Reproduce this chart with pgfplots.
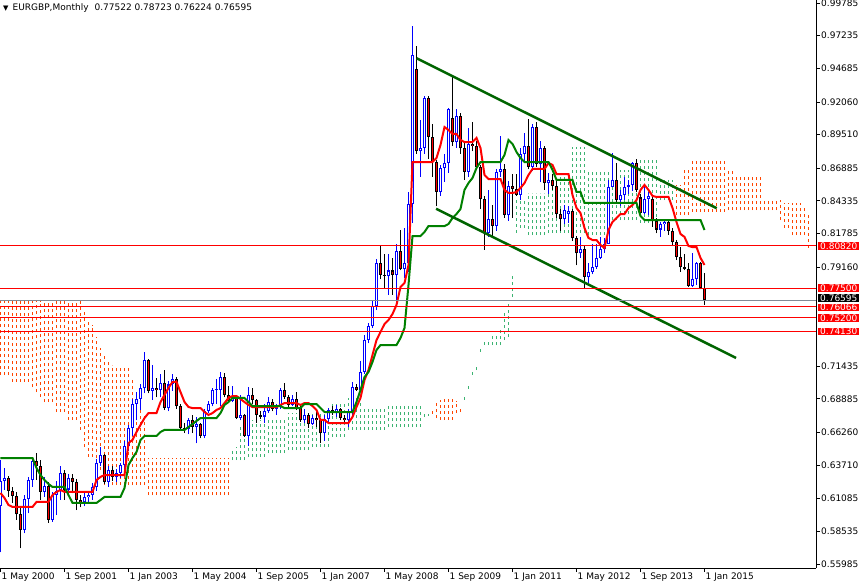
\documentclass[border=0pt]{standalone}
\usepackage{fontspec}
\setmainfont{DejaVu Sans}
\usepackage{pgfplots}
\usepackage{pgfplotstable}
\pgfplotsset{compat=1.18}

\definecolor{mtred}{RGB}{255,0,0}
\definecolor{mtblue}{RGB}{0,0,255}
\definecolor{kijun}{RGB}{0,128,0}
\definecolor{trend}{RGB}{0,100,0}
\definecolor{kumodn}{RGB}{255,69,0}
\definecolor{kumoup}{RGB}{60,179,113}
\definecolor{bidgray}{RGB}{128,138,150}

% monthly EURGBP bars, x = months since May 2000; tk = tenkan, kj = kijun
\pgfplotstableread{
x o h l c tk kj
0 0.6050 0.6410 0.5690 0.6245 0.6153 0.6426
1 0.6245 0.6345 0.6180 0.6267 0.6114 0.6426
2 0.6267 0.6285 0.6125 0.6171 0.6059 0.6426
3 0.6171 0.6200 0.6073 0.6132 0.6044 0.6426
4 0.6132 0.6163 0.5942 0.5986 0.6044 0.6426
5 0.5986 0.6046 0.5720 0.5864 0.6044 0.6426
6 0.5864 0.6137 0.5838 0.6109 0.6044 0.6426
7 0.6109 0.6280 0.5994 0.6254 0.6044 0.6426
8 0.6254 0.6437 0.6202 0.6403 0.6044 0.6426
9 0.6403 0.6463 0.6254 0.6360 0.6083 0.6348
10 0.6360 0.6410 0.6098 0.6163 0.6083 0.6293
11 0.6163 0.6280 0.6124 0.6210 0.6083 0.6254
12 0.6210 0.6240 0.5920 0.5942 0.6083 0.6223
13 0.5942 0.6160 0.5930 0.6140 0.6137 0.6200
14 0.6140 0.6250 0.5980 0.6165 0.6161 0.6200
15 0.6165 0.6360 0.6100 0.6310 0.6176 0.6200
16 0.6310 0.6330 0.6100 0.6180 0.6161 0.6200
17 0.6180 0.6300 0.6140 0.6270 0.6161 0.6137
18 0.6270 0.6300 0.6150 0.6240 0.6161 0.6075
19 0.6240 0.6260 0.6020 0.6100 0.6161 0.6075
20 0.6100 0.6140 0.6040 0.6080 0.6161 0.6075
21 0.6080 0.6150 0.6050 0.6120 0.6161 0.6075
22 0.6120 0.6160 0.6070 0.6140 0.6161 0.6075
23 0.6140 0.6230 0.6100 0.6200 0.6161 0.6075
24 0.6200 0.6420 0.6170 0.6390 0.6254 0.6075
25 0.6390 0.6510 0.6360 0.6450 0.6278 0.6098
26 0.6450 0.6460 0.6220 0.6240 0.6293 0.6122
27 0.6240 0.6360 0.6200 0.6330 0.6293 0.6122
28 0.6330 0.6360 0.6250 0.6280 0.6293 0.6122
29 0.6280 0.6340 0.6240 0.6310 0.6293 0.6122
30 0.6310 0.6390 0.6270 0.6370 0.6293 0.6122
31 0.6370 0.6560 0.6330 0.6520 0.6293 0.6192
32 0.6520 0.6680 0.6480 0.6660 0.6543 0.6371
33 0.6660 0.6890 0.6600 0.6850 0.6567 0.6426
34 0.6850 0.6940 0.6720 0.6890 0.6629 0.6473
35 0.6890 0.7000 0.6800 0.6970 0.6684 0.6567
36 0.6970 0.7250 0.6930 0.7190 0.6738 0.6598
37 0.7190 0.7200 0.6930 0.6950 0.6777 0.6598
38 0.6950 0.7150 0.6880 0.6975 0.6777 0.6598
39 0.6975 0.7050 0.6900 0.6955 0.6777 0.6598
40 0.6955 0.7080 0.6900 0.7010 0.6863 0.6629
41 0.7010 0.7110 0.6800 0.6815 0.6918 0.6645
42 0.6815 0.7030 0.6790 0.7000 0.6973 0.6645
43 0.7000 0.7080 0.6950 0.7040 0.7020 0.6645
44 0.7040 0.7060 0.6810 0.6830 0.7020 0.6645
45 0.6830 0.6850 0.6640 0.6660 0.6941 0.6645
46 0.6660 0.6700 0.6620 0.6650 0.6863 0.6645
47 0.6650 0.6740 0.6610 0.6720 0.6824 0.6668
48 0.6720 0.6760 0.6620 0.6670 0.6816 0.6691
49 0.6670 0.6750 0.6540 0.6690 0.6816 0.6715
50 0.6690 0.6700 0.6580 0.6600 0.6816 0.6738
51 0.6600 0.6810 0.6580 0.6790 0.6785 0.6738
52 0.6790 0.6870 0.6780 0.6850 0.6762 0.6738
53 0.6850 0.6970 0.6830 0.6955 0.6777 0.6738
54 0.6955 0.7040 0.6850 0.6960 0.6801 0.6738
55 0.6960 0.7100 0.6830 0.7060 0.6816 0.6777
56 0.7060 0.7090 0.6900 0.6920 0.6855 0.6840
57 0.6920 0.6990 0.6860 0.6870 0.6895 0.6863
58 0.6870 0.6990 0.6860 0.6900 0.6910 0.6895
59 0.6900 0.6920 0.6730 0.6740 0.6910 0.6895
60 0.6740 0.6920 0.6720 0.6760 0.6887 0.6895
61 0.6760 0.6770 0.6590 0.6600 0.6863 0.6895
62 0.6600 0.6980 0.6520 0.6920 0.6840 0.6863
63 0.6920 0.6970 0.6850 0.6880 0.6824 0.6832
64 0.6880 0.6890 0.6700 0.6760 0.6824 0.6832
65 0.6760 0.6790 0.6730 0.6750 0.6824 0.6832
66 0.6750 0.6850 0.6700 0.6790 0.6824 0.6832
67 0.6790 0.6900 0.6780 0.6860 0.6824 0.6832
68 0.6860 0.6890 0.6790 0.6810 0.6824 0.6832
69 0.6810 0.6850 0.6760 0.6830 0.6824 0.6832
70 0.6830 0.6970 0.6810 0.6960 0.6840 0.6832
71 0.6960 0.7010 0.6890 0.6905 0.6855 0.6816
72 0.6905 0.6920 0.6820 0.6840 0.6855 0.6816
73 0.6840 0.6920 0.6830 0.6890 0.6855 0.6816
74 0.6890 0.6940 0.6800 0.6820 0.6855 0.6816
75 0.6820 0.6830 0.6710 0.6720 0.6840 0.6816
76 0.6720 0.6810 0.6700 0.6760 0.6855 0.6847
77 0.6760 0.6780 0.6660 0.6690 0.6855 0.6847
78 0.6690 0.6760 0.6680 0.6740 0.6832 0.6847
79 0.6740 0.6790 0.6670 0.6720 0.6801 0.6847
80 0.6720 0.6740 0.6540 0.6620 0.6723 0.6816
81 0.6620 0.6760 0.6560 0.6730 0.6723 0.6785
82 0.6730 0.6820 0.6700 0.6800 0.6699 0.6785
83 0.6800 0.6830 0.6760 0.6790 0.6699 0.6785
84 0.6790 0.6840 0.6750 0.6810 0.6699 0.6785
85 0.6810 0.6820 0.6720 0.6740 0.6699 0.6785
86 0.6740 0.6760 0.6700 0.6720 0.6699 0.6785
87 0.6720 0.6810 0.6670 0.6790 0.6699 0.6785
88 0.6790 0.7020 0.6750 0.6980 0.6746 0.6785
89 0.6980 0.7000 0.6950 0.6960 0.6824 0.6863
90 0.6960 0.7180 0.6940 0.7100 0.6895 0.6957
91 0.7100 0.7390 0.7080 0.7350 0.7035 0.7058
92 0.7350 0.7480 0.7320 0.7460 0.7113 0.7098
93 0.7460 0.7660 0.7440 0.7610 0.7230 0.7176
94 0.7610 0.7980 0.7580 0.7945 0.7347 0.7269
95 0.7945 0.8090 0.7820 0.7855 0.7410 0.7308
96 0.7855 0.8020 0.7750 0.7850 0.7472 0.7308
97 0.7850 0.8020 0.7700 0.7890 0.7503 0.7308
98 0.7890 0.7990 0.7700 0.7855 0.7550 0.7308
99 0.7855 0.8100 0.7630 0.8040 0.7621 0.7308
100 0.8040 0.8210 0.7890 0.7905 0.7761 0.7363
101 0.7905 0.8220 0.7830 0.7950 0.7792 0.7441
102 0.7950 0.8500 0.7880 0.8410 0.7933 0.7777
103 0.8410 0.9795 0.8260 0.9570 0.8737 0.8159
104 0.9460 0.9640 0.8800 0.8820 0.8737 0.8159
105 0.8820 0.9065 0.8620 0.8850 0.8737 0.8159
106 0.8850 0.9250 0.8800 0.9234 0.8737 0.8191
107 0.9234 0.9250 0.8760 0.8935 0.8737 0.8237
108 0.8935 0.9030 0.8620 0.8740 0.8737 0.8237
109 0.8740 0.8750 0.8390 0.8506 0.8768 0.8237
110 0.8506 0.8710 0.8470 0.8690 0.8870 0.8237
111 0.8690 0.8800 0.8580 0.8730 0.9010 0.8237
112 0.8730 0.9160 0.8650 0.9148 0.8987 0.8253
113 0.9080 0.9403 0.8860 0.8890 0.8956 0.8300
114 0.8890 0.9150 0.8850 0.9100 0.8956 0.8331
115 0.9100 0.9120 0.8800 0.8844 0.8909 0.8370
116 0.8844 0.8900 0.8600 0.8662 0.8893 0.8519
117 0.8662 0.9000 0.8620 0.8880 0.8893 0.8573
118 0.8880 0.9050 0.8820 0.8860 0.8893 0.8612
119 0.8860 0.8900 0.8680 0.8700 0.8925 0.8690
120 0.8700 0.8710 0.8370 0.8450 0.8846 0.8737
121 0.8450 0.8470 0.8050 0.8180 0.8636 0.8737
122 0.8180 0.8520 0.8150 0.8290 0.8604 0.8737
123 0.8290 0.8400 0.8150 0.8240 0.8604 0.8737
124 0.8240 0.8680 0.8200 0.8660 0.8604 0.8737
125 0.8660 0.8940 0.8620 0.8680 0.8604 0.8737
126 0.8680 0.8720 0.8300 0.8323 0.8519 0.8792
127 0.8323 0.8590 0.8280 0.8550 0.8495 0.8909
128 0.8550 0.8640 0.8300 0.8530 0.8495 0.8878
129 0.8530 0.8640 0.8470 0.8480 0.8503 0.8815
130 0.8480 0.8850 0.8440 0.8800 0.8534 0.8768
131 0.8800 0.8960 0.8740 0.8860 0.8573 0.8737
132 0.8860 0.9070 0.8680 0.8700 0.8636 0.8737
133 0.8700 0.9030 0.8670 0.9010 0.8683 0.8737
134 0.9010 0.9050 0.8700 0.8720 0.8683 0.8737
135 0.8720 0.8900 0.8580 0.8850 0.8683 0.8737
136 0.8850 0.8860 0.8520 0.8570 0.8683 0.8737
137 0.8570 0.8650 0.8490 0.8600 0.8729 0.8737
138 0.8600 0.8640 0.8520 0.8550 0.8714 0.8675
139 0.8550 0.8610 0.8300 0.8330 0.8643 0.8597
140 0.8330 0.8370 0.8200 0.8290 0.8643 0.8597
141 0.8290 0.8400 0.8250 0.8360 0.8643 0.8597
142 0.8330 0.8390 0.8260 0.8355 0.8643 0.8597
143 0.8355 0.8370 0.8120 0.8140 0.8479 0.8597
144 0.8140 0.8160 0.7930 0.8024 0.8378 0.8503
145 0.8024 0.8150 0.7990 0.8060 0.8339 0.8503
146 0.8060 0.8080 0.7755 0.7840 0.8222 0.8417
147 0.7840 0.7950 0.7790 0.7880 0.8144 0.8417
148 0.7880 0.8100 0.7860 0.7920 0.8128 0.8417
149 0.7920 0.8100 0.7900 0.7990 0.8128 0.8417
150 0.7990 0.8150 0.7980 0.8060 0.8089 0.8417
151 0.8060 0.8140 0.8030 0.8100 0.8066 0.8417
152 0.8100 0.8600 0.8100 0.8545 0.8206 0.8417
153 0.8545 0.8810 0.8540 0.8600 0.8269 0.8417
154 0.8600 0.8730 0.8420 0.8440 0.8300 0.8417
155 0.8440 0.8520 0.8390 0.8480 0.8331 0.8417
156 0.8480 0.8620 0.8440 0.8545 0.8331 0.8417
157 0.8545 0.8600 0.8490 0.8560 0.8378 0.8417
158 0.8560 0.8740 0.8510 0.8730 0.8401 0.8417
159 0.8730 0.8760 0.8500 0.8520 0.8440 0.8417
160 0.8460 0.8490 0.8320 0.8340 0.8519 0.8315
161 0.8340 0.8560 0.8330 0.8450 0.8558 0.8284
162 0.8450 0.8500 0.8320 0.8470 0.8519 0.8284
163 0.8450 0.8460 0.8230 0.8280 0.8472 0.8284
164 0.8280 0.8300 0.8180 0.8210 0.8464 0.8284
165 0.8210 0.8270 0.8150 0.8250 0.8464 0.8284
166 0.8250 0.8290 0.8200 0.8270 0.8464 0.8284
167 0.8270 0.8280 0.8170 0.8200 0.8464 0.8284
168 0.8200 0.8220 0.8080 0.8110 0.8378 0.8284
169 0.8110 0.8130 0.7970 0.7995 0.8269 0.8284
170 0.7995 0.8070 0.7880 0.7915 0.8175 0.8284
171 0.7915 0.8020 0.7890 0.7900 0.8152 0.8284
172 0.7900 0.7950 0.7760 0.7770 0.8081 0.8284
173 0.7770 0.8030 0.7760 0.7820 0.8073 0.8284
174 0.7820 0.7960 0.7780 0.7945 0.8073 0.8284
175 0.7945 0.7955 0.7743 0.7752 0.7988 0.8284
176 0.77522 0.78723 0.76224 0.76595 0.7933 0.8206
}\candles

% kumo, bearish part (span A below span B)
\pgfplotstableread{
x lo hi
0 0.7074 0.7652
1 0.7074 0.7652
2 0.7074 0.7652
3 0.7020 0.7652
4 0.7020 0.7652
5 0.7020 0.7652
6 0.7020 0.7652
7 0.7020 0.7652
8 0.6980 0.7652
9 0.6941 0.7652
10 0.6902 0.7652
11 0.6863 0.7652
12 0.6863 0.7652
13 0.6863 0.7652
14 0.6785 0.7652
15 0.6785 0.7652
16 0.6785 0.7652
17 0.6723 0.7652
18 0.6723 0.7652
19 0.6723 0.7652
20 0.6645 0.7652
21 0.6512 0.7582
22 0.6434 0.7503
23 0.6434 0.7465
24 0.6332 0.7371
25 0.6332 0.7285
26 0.6215 0.7230
27 0.6215 0.7191
28 0.6215 0.7152
29 0.6215 0.7129
30 0.6215 0.7129
31 0.6215 0.7129
32 0.6215 0.7129
33 0.6215 0.7035
34 0.6215 0.6934
35 0.6215 0.6879
36 0.6215 0.6762
37 0.6137 0.6426
38 0.6137 0.6426
39 0.6137 0.6426
40 0.6137 0.6426
41 0.6137 0.6426
42 0.6137 0.6426
43 0.6137 0.6426
44 0.6137 0.6426
45 0.6137 0.6426
46 0.6137 0.6426
47 0.6137 0.6426
48 0.6137 0.6426
49 0.6137 0.6426
50 0.6137 0.6426
51 0.6137 0.6426
52 0.6137 0.6426
53 0.6137 0.6426
54 0.6137 0.6426
55 0.6137 0.6426
56 0.6137 0.6426
57 0.6137 0.6426
108 0.6770 0.6800
109 0.6738 0.6855
110 0.6723 0.6879
111 0.6723 0.6887
112 0.6723 0.6887
113 0.6723 0.6887
114 0.6777 0.6871
115 0.6785 0.6824
169 0.8323 0.8558
170 0.8323 0.8558
171 0.8323 0.8675
172 0.8323 0.8675
173 0.8347 0.8768
174 0.8347 0.8768
175 0.8347 0.8768
176 0.8347 0.8768
177 0.8347 0.8768
178 0.8347 0.8768
179 0.8347 0.8768
180 0.8347 0.8768
181 0.8347 0.8768
182 0.8362 0.8675
183 0.8362 0.8675
184 0.8362 0.8620
185 0.8362 0.8620
186 0.8362 0.8620
187 0.8362 0.8620
188 0.8362 0.8620
189 0.8362 0.8620
190 0.8362 0.8620
191 0.8362 0.8440
192 0.8362 0.8440
193 0.8362 0.8440
194 0.8362 0.8440
195 0.8284 0.8440
196 0.8222 0.8417
197 0.8222 0.8417
198 0.8167 0.8417
199 0.8167 0.8417
200 0.8167 0.8417
201 0.8167 0.8401
202 0.8066 0.8347
}\kumodown

% kumo, bullish part
\pgfplotstableread{
x lo hi
58 0.6410 0.6486
59 0.6410 0.6512
60 0.6410 0.6668
61 0.6410 0.6668
62 0.6434 0.6723
63 0.6434 0.6723
64 0.6434 0.6723
65 0.6434 0.6723
66 0.6434 0.6723
67 0.6465 0.6746
68 0.6465 0.6746
69 0.6465 0.6746
70 0.6465 0.6746
71 0.6465 0.6746
72 0.6488 0.6777
73 0.6488 0.6777
74 0.6488 0.6777
75 0.6488 0.6777
76 0.6488 0.6777
77 0.6488 0.6777
78 0.6512 0.6777
79 0.6512 0.6777
80 0.6512 0.6777
81 0.6512 0.6777
82 0.6512 0.6777
83 0.6590 0.6855
84 0.6590 0.6855
85 0.6590 0.6855
86 0.6590 0.6855
87 0.6645 0.6895
88 0.6645 0.6895
89 0.6645 0.6895
90 0.6645 0.6895
91 0.6645 0.6824
92 0.6645 0.6824
93 0.6645 0.6824
94 0.6645 0.6824
95 0.6645 0.6824
96 0.6645 0.6824
97 0.6668 0.6855
98 0.6668 0.6855
99 0.6668 0.6855
100 0.6668 0.6847
101 0.6668 0.6847
102 0.6668 0.6847
103 0.6668 0.6847
104 0.6668 0.6847
105 0.6668 0.6847
106 0.6746 0.6770
107 0.6754 0.6770
116 0.6880 0.6910
117 0.6965 0.6995
118 0.7075 0.7105
119 0.7113 0.7145
120 0.7255 0.7285
121 0.7308 0.7347
122 0.7308 0.7347
123 0.7308 0.7386
124 0.7308 0.7386
125 0.7308 0.7425
126 0.7347 0.7558
127 0.7371 0.7636
128 0.7683 0.7855
129 0.8183 0.8440
130 0.8222 0.8456
131 0.8222 0.8456
132 0.8167 0.8495
133 0.8167 0.8495
134 0.8167 0.8495
135 0.8167 0.8495
136 0.8167 0.8495
137 0.8183 0.8573
138 0.8183 0.8573
139 0.8183 0.8573
140 0.8183 0.8620
141 0.8183 0.8620
142 0.8183 0.8620
143 0.8183 0.8854
144 0.8183 0.8854
145 0.8183 0.8854
146 0.8183 0.8854
147 0.8167 0.8675
148 0.8167 0.8675
149 0.8167 0.8675
150 0.8167 0.8675
151 0.8167 0.8675
152 0.8167 0.8675
153 0.8284 0.8675
154 0.8284 0.8675
155 0.8284 0.8675
156 0.8284 0.8675
157 0.8284 0.8675
158 0.8284 0.8675
159 0.8284 0.8675
160 0.8261 0.8753
161 0.8261 0.8753
162 0.8261 0.8753
163 0.8261 0.8753
164 0.8261 0.8753
165 0.8440 0.8597
166 0.8440 0.8597
167 0.8440 0.8597
168 0.8440 0.8597
}\kumoup

\pgfplotsset{
    vbar/.style 2 args={draw=none, mark=none,
        error bars/.cd, y dir=plus, y explicit, error mark=none,
        error bar style={draw=#1, solid, line width=#2}},
}

\newcommand{\lbl}{\fontsize{9bp}{10bp}\selectfont}

\begin{document}
\begin{tikzpicture}
\useasboundingbox (0,-17bp) rectangle (859bp,568bp);
\begin{axis}[
    at={(0,0)}, anchor=south west,
    width=816bp, height=568bp, scale only axis,
    xmin=-0.125, xmax=203.875,
    ymin=0.55672, ymax=1.00019,
    clip=false,
    axis x line*=bottom, axis y line*=right,
    axis line style={-, line width=1bp, black},
    tick align=outside, major tick length=4bp,
    tick style={black, line width=0.8bp},
    tick label style={font=\lbl},
    xtick={0,16,32,48,64,80,96,112,128,144,160,176},
    xticklabels={1 May 2000,1 Sep 2001,1 Jan 2003,1 May 2004,1 Sep 2005,1 Jan 2007,1 May 2008,1 Sep 2009,1 Jan 2011,1 May 2012,1 Sep 2013,1 Jan 2015},
    xticklabel style={anchor=north west, inner sep=1bp},
    ytick={0.99785,0.97235,0.94685,0.92060,0.89510,0.86885,0.84335,0.81785,0.79160,0.71435,0.68885,0.66260,0.63710,0.61085,0.58535,0.55985},
    yticklabels={0.99785,0.97235,0.94685,0.92060,0.89510,0.86885,0.84335,0.81785,0.79160,0.71435,0.68885,0.66260,0.63710,0.61085,0.58535,0.55985},
    yticklabel style={anchor=west, inner sep=1bp},
]

% ichimoku cloud, one dotted column per bar
\addplot[vbar={kumodn}{1bp}, error bar style={dash pattern=on 3bp off 3bp}]
    table[x=x, y=lo, y error plus expr=\thisrow{hi}-\thisrow{lo}] {\kumodown};
\addplot[vbar={kumoup}{1bp}, error bar style={dash pattern=on 3bp off 3bp}]
    table[x=x, y=lo, y error plus expr=\thisrow{hi}-\thisrow{lo}] {\kumoup};

% bullish candles: blue wick, blue hollow body
\addplot[vbar={mtblue}{1bp}]
    table[x=x, y expr={\thisrow{c}>=\thisrow{o} ? \thisrow{l} : nan},
          y error plus expr=\thisrow{h}-\thisrow{l}] {\candles};
\addplot[vbar={mtblue}{3bp}]
    table[x=x, y expr={\thisrow{c}>=\thisrow{o} ? \thisrow{o} : nan},
          y error plus expr={max(\thisrow{c}-\thisrow{o},0.0008)}] {\candles};
\addplot[vbar={white}{1bp}]
    table[x=x, y expr={(\thisrow{c}-\thisrow{o})>0.0016 ? \thisrow{o}+0.0008 : nan},
          y error plus expr={\thisrow{c}-\thisrow{o}-0.0016}] {\candles};

% bearish candles: black wick, red body
\addplot[vbar={black}{1bp}]
    table[x=x, y expr={\thisrow{c}<\thisrow{o} ? \thisrow{l} : nan},
          y error plus expr=\thisrow{h}-\thisrow{l}] {\candles};
\addplot[vbar={black}{3bp}]
    table[x=x, y expr={\thisrow{c}<\thisrow{o} ? \thisrow{c} : nan},
          y error plus expr={max(\thisrow{o}-\thisrow{c},0.0008)}] {\candles};
\addplot[vbar={mtred}{1.4bp}]
    table[x=x, y expr={(\thisrow{o}-\thisrow{c})>0.0016 ? \thisrow{c}+0.0008 : nan},
          y error plus expr={\thisrow{o}-\thisrow{c}-0.0016}] {\candles};

% tenkan and kijun
\addplot[mtred, line width=2bp] table[x=x, y=tk] {\candles};
\addplot[kijun, line width=2bp] table[x=x, y=kj] {\candles};

% channel
\addplot[trend, line width=2.5bp] coordinates {(104.05,0.9547) (179.05,0.8376)};
\addplot[trend, line width=2.5bp] coordinates {(108.9,0.8372) (183.9,0.7207)};

% levels
\addplot[bidgray, line width=1bp] coordinates {(-0.125,0.76595) (203.875,0.76595)};
\addplot[mtred, line width=1bp] coordinates {(-0.125,0.80820) (203.875,0.80820)};
\addplot[mtred, line width=1bp] coordinates {(-0.125,0.77500) (203.875,0.77500)};
\addplot[mtred, line width=1bp] coordinates {(-0.125,0.76066) (203.875,0.76066)};
\addplot[mtred, line width=1bp] coordinates {(-0.125,0.75200) (203.875,0.75200)};
\addplot[mtred, line width=1bp] coordinates {(-0.125,0.74130) (203.875,0.74130)};

\end{axis}

% price boxes on the scale
\begin{scope}[every node/.style={anchor=west, text=white, font=\lbl, inner xsep=2.5bp, inner ysep=0.3bp}]
\node[fill=black] at (817.5bp, 270.0bp) {0.76595};
\node[fill=mtred] at (817.5bp, 322.1bp) {0.80820};
\node[fill=mtred] at (817.5bp, 279.8bp) {0.77500};
\node[fill=mtred] at (817.5bp, 260.4bp) {0.76066};
\node[fill=mtred] at (817.5bp, 250.1bp) {0.75200};
\node[fill=mtred] at (817.5bp, 236.4bp) {0.74130};
\end{scope}

\node[anchor=north west, font=\lbl, inner sep=0pt] at (3bp, 565bp)
    {{\fontsize{7bp}{8bp}\selectfont ▼}\hspace{4bp}EURGBP,Monthly\hspace{6bp}0.77522 0.78723 0.76224 0.76595};
\end{tikzpicture}
\end{document}
